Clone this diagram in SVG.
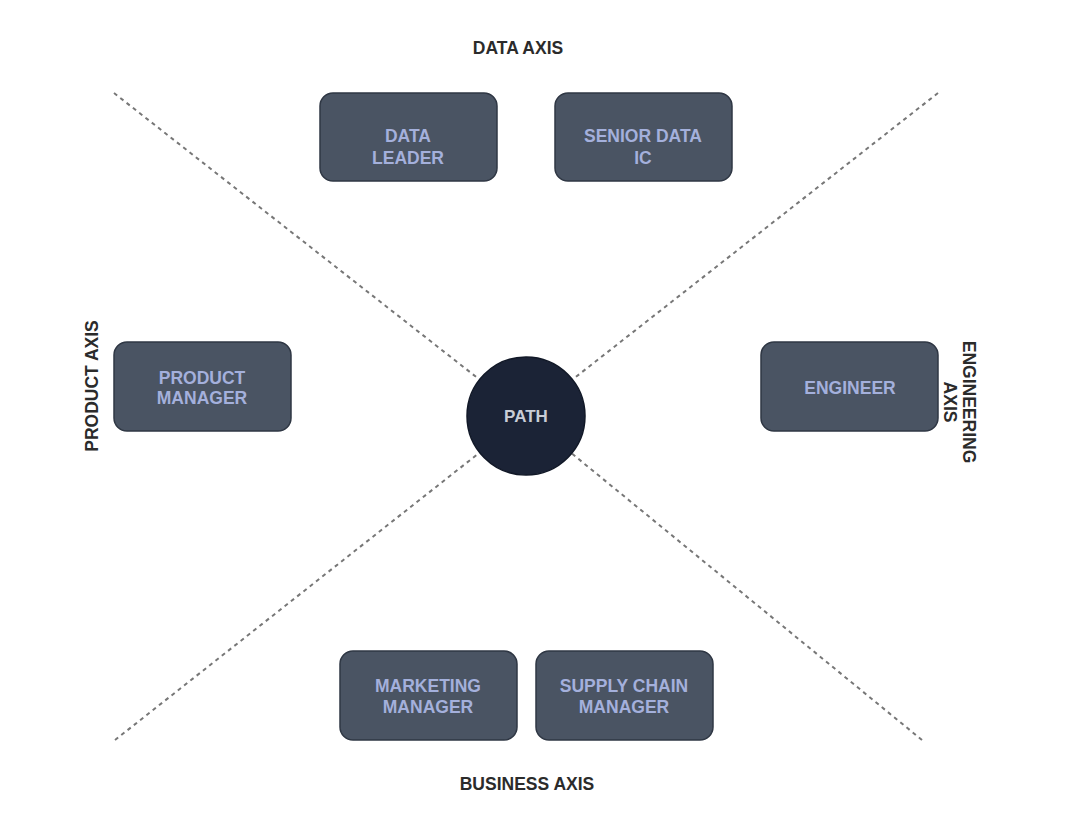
<svg xmlns="http://www.w3.org/2000/svg" width="1080" height="837" viewBox="0 0 1080 837">
<style>
.box{fill:#4a5463;stroke:#2f3744;stroke-width:1.5}
.bt{font-family:"Liberation Sans",Arial,sans-serif;font-weight:bold;font-size:17.5px;fill:#a4b0dc;text-anchor:middle}
.ax{font-family:"Liberation Sans",Arial,sans-serif;font-weight:bold;font-size:17.5px;fill:#2b2b2b;text-anchor:middle}
.dl{stroke:#777;stroke-width:2;stroke-dasharray:4 4;fill:none}
</style>
<rect width="1080" height="837" fill="#ffffff"/>
<g id="connectors">
<line class="dl" x1="114" y1="93" x2="526" y2="416"/>
<line class="dl" x1="938" y1="93" x2="526" y2="416"/>
<line class="dl" x1="115" y1="740" x2="526" y2="416"/>
<line class="dl" x1="922" y1="740" x2="526" y2="416"/>
</g>
<g id="labels">
<text class="ax" x="518" y="54">DATA AXIS</text>
<text class="ax" x="527" y="790">BUSINESS AXIS</text>
<text class="ax" transform="translate(98,386) rotate(-90)">PRODUCT AXIS</text>
<g transform="translate(958,402) rotate(90)">
<text class="ax" x="0" y="-5">ENGINEERING</text>
<text class="ax" x="0" y="14">AXIS</text>
</g>
</g>
<g id="data-leader">
<rect class="box" x="320" y="93" width="177" height="88" rx="13"/>
<text class="bt" x="408" y="142">DATA</text>
<text class="bt" x="408" y="164">LEADER</text>
</g>
<g id="senior-data-ic">
<rect class="box" x="555" y="93" width="177" height="88" rx="13"/>
<text class="bt" x="643" y="142">SENIOR DATA</text>
<text class="bt" x="643" y="164">IC</text>
</g>
<g id="product-manager">
<rect class="box" x="114" y="342" width="177" height="89" rx="13"/>
<text class="bt" x="202" y="384">PRODUCT</text>
<text class="bt" x="202" y="404">MANAGER</text>
</g>
<g id="engineer">
<rect class="box" x="761" y="342" width="177" height="89" rx="13"/>
<text class="bt" x="850" y="394">ENGINEER</text>
</g>
<g id="marketing-manager">
<rect class="box" x="340" y="651" width="177" height="89" rx="13"/>
<text class="bt" x="428" y="692">MARKETING</text>
<text class="bt" x="428" y="713">MANAGER</text>
</g>
<g id="supply-chain-manager">
<rect class="box" x="536" y="651" width="177" height="89" rx="13"/>
<text class="bt" x="624" y="692">SUPPLY CHAIN</text>
<text class="bt" x="624" y="713">MANAGER</text>
</g>
<g id="path">
<circle cx="526" cy="416" r="59" fill="#1b2336" stroke="#111827" stroke-width="1.5"/>
<text x="526" y="422" font-family="Liberation Sans,Arial,sans-serif" font-weight="bold" font-size="17" fill="#c9cdd6" text-anchor="middle">PATH</text>
</g>
</svg>
